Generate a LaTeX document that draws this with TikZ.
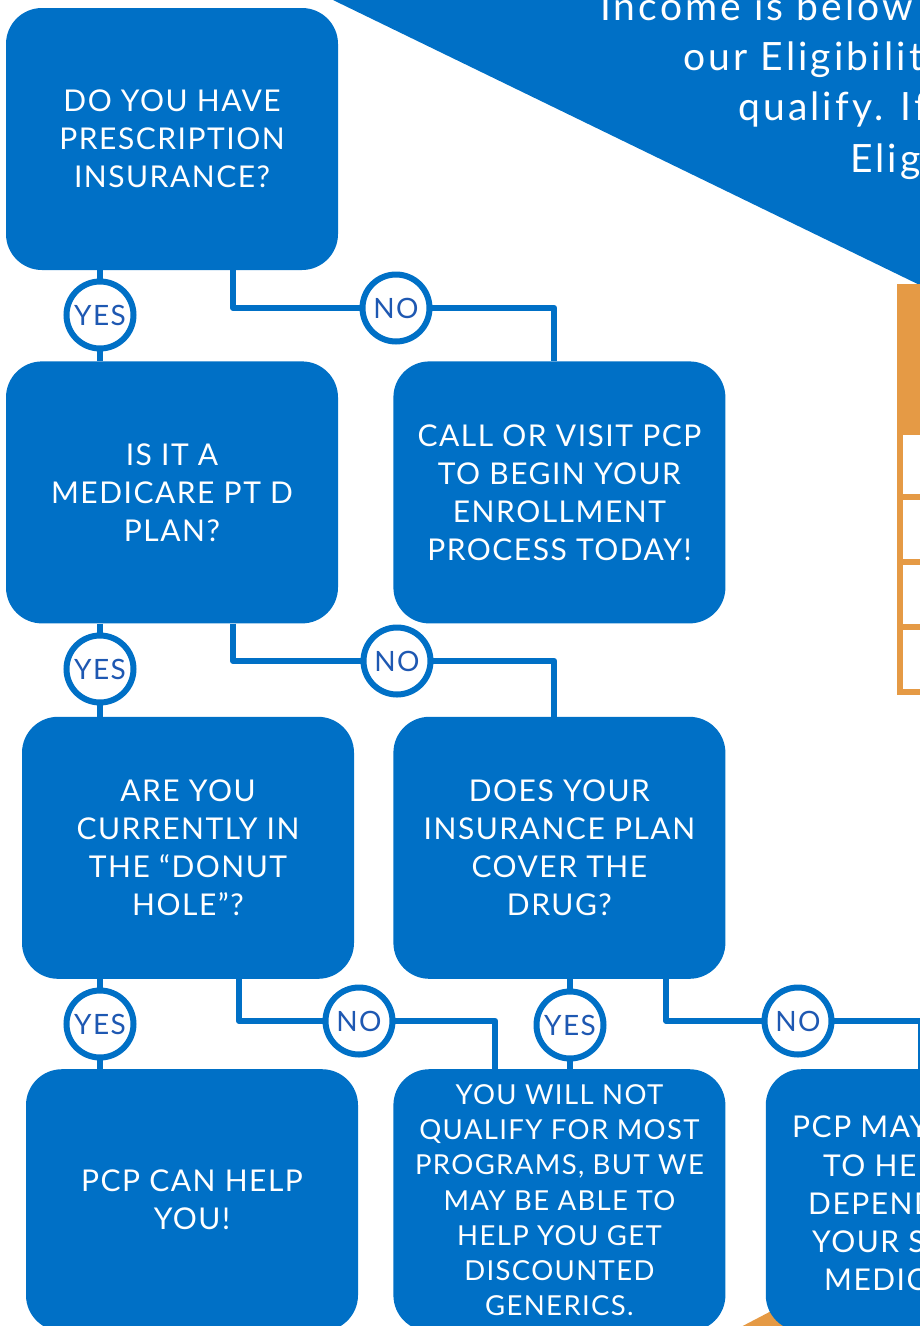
\documentclass[tikz,border=0pt]{standalone}
\usepackage{fontspec}
\setmainfont{Lato}[LetterSpace=5]
\usepackage{tikz}
\usetikzlibrary{shapes, positioning}
\definecolor{pcpblue}{RGB}{0,112,198}
\definecolor{pcpnavy}{RGB}{30,88,178}
\definecolor{pcporange}{RGB}{229,154,69}
\tikzstyle{block} = [rectangle, fill=pcpblue, text=white, rounded corners=36pt,
    minimum width=332pt, minimum height=262pt, inner sep=0pt, align=center,
    font=\fontsize{30}{38}\selectfont]
\tikzstyle{answer} = [circle, draw=pcpblue, line width=6pt, fill=white, text=pcpnavy,
    minimum size=67pt, inner sep=0pt, outer sep=0pt, font=\fontsize{28}{28}\selectfont]
\tikzstyle{wire} = [draw=pcpblue, line width=6pt, line join=round]
\tikzstyle{fragment} = [anchor=base west, inner sep=0pt, text=white]

\begin{document}
\begin{tikzpicture}[x=1pt, y=-1pt]
      \useasboundingbox (0,0) rectangle (920,1326);
      \clip (0,0) rectangle (920,1326);
      % Banner and table at the edge
      \fill [pcpblue] (333,0) -- (930,290) -- (930,0) -- cycle;
      \foreach \x/\y/\t in {600/20/Income is below, 683/70/our Eligibilit, 738/120/qualify. If, 850/172/Elig}
        \node [fragment, font=\fontsize{39}{39}\selectfont\addfontfeature{LetterSpace=8}] at (\x,\y) {\t};
      \fill [pcporange] (897,284) rectangle (930,695);
      \foreach \y in {435,500,565,630}
        \fill [white] (903,\y) rectangle (930,\y+59);
      \fill [pcporange] (735,1330) -- (800,1296) -- (800,1330) -- cycle;
      % Questions
      \node [block] (q1) at (172,139) {DO YOU HAVE\\PRESCRIPTION\\INSURANCE?};
      \node [block, below=91pt of q1] (q2) {IS IT A\\MEDICARE PT D\\PLAN?};
      \node [block, right=55pt of q2] (q3) {CALL OR VISIT PCP\\TO BEGIN YOUR\\ENROLLMENT\\PROCESS TODAY!};
      \node [block, below=93pt of q2, xshift=16pt] (q4) {ARE YOU\\CURRENTLY IN\\THE “DONUT\\HOLE”?};
      \node [block, below=93pt of q3] (q5) {DOES YOUR\\INSURANCE PLAN\\COVER THE\\DRUG?};
      % Outcomes
      \node [block, below=90pt of q4, xshift=4pt] (q6) {PCP CAN HELP\\YOU!};
      \node [block, below=90pt of q5, font=\fontsize{27.5}{35.3}\selectfont] (q7) {YOU WILL NOT\\QUALIFY FOR MOST\\PROGRAMS, BUT WE\\MAY BE ABLE TO\\HELP YOU GET\\DISCOUNTED\\GENERICS.};
      \node [block, right=40pt of q7] (q8) {};
      \foreach \x/\y/\t in {792/1137/PCP MAY, 823/1176/TO HE, 808/1214/DEPEND, 812/1252/YOUR S, 824/1290/MEDIC}
        \node [fragment, font=\fontsize{30}{30}\selectfont] at (\x,\y) {\t};
      % Answers
      \node [answer] (yes1) at (100,315) {YES};
      \node [answer] (no1) at (396,308) {NO};
      \node [answer] (yes2) at (100,669) {YES};
      \node [answer] (no2) at (397,661) {NO};
      \node [answer] (yes3) at (100,1024) {YES};
      \node [answer] (no3) at (359,1021) {NO};
      \node [answer] (yes4) at (570,1025) {YES};
      \node [answer] (no4) at (798,1021) {NO};
      % Draw edges
      \path [wire] (q1.south -| yes1) -- (yes1) -- (q2.north -| yes1);
      \path [wire] ([xshift=61pt]q1.south) |- (no1) -| ([xshift=-5pt]q3.north);
      \path [wire] (q2.south -| yes2) -- (yes2) -- (q4.north -| yes2);
      \path [wire] ([xshift=61pt]q2.south) |- (no2) -| ([xshift=-5pt]q5.north);
      \path [wire] (q4.south -| yes3) -- (yes3) -- (q6.north -| yes3);
      \path [wire] ([xshift=51pt]q4.south) |- (no3) -| ([xshift=-64pt]q7.north);
      \path [wire] (q5.south -| yes4) -- (yes4) -- (q7.north -| yes4);
      \path [wire] ([xshift=107pt]q5.south) |- (no4) -| ([xshift=-11pt]q8.north);
    \end{tikzpicture}
\end{document}
